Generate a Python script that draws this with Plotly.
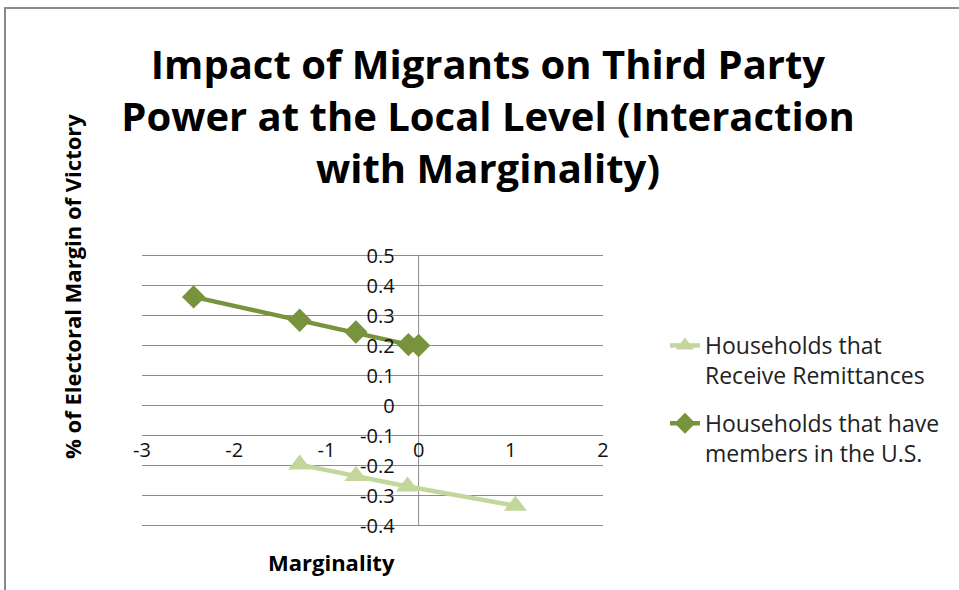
import plotly.graph_objects as go

# values
members_x = [-2.44, -1.29, -0.68, -0.11, 0.0]
members_y = [0.362, 0.284, 0.245, 0.203, 0.200]
remit_x = [-1.29, -0.68, -0.12, 1.05]
remit_y = [-0.197, -0.235, -0.27, -0.334]

y_ticks = [-0.4, -0.3, -0.2, -0.1, 0, 0.1, 0.2, 0.3, 0.4, 0.5]
y_labels = ["-0.4", "-0.3", "-0.2", "-0.1", "0", "0.1", "0.2", "0.3", "0.4", "0.5"]
x_ticks = [-3, -2, -1, 0, 1, 2]
x_labels = ["-3", "-2", "-1", "0", "1", "2"]

FONT = "'Open Sans', Lato, sans-serif"
W, H = 959, 590
L, R, T, B = 142, 603, 254, 527  # plot area in pixels
Y0, Y1 = -0.405, 0.505  # small pad so the end gridlines still draw

fig = go.Figure()

fig.add_trace(go.Scatter(
    x=remit_x, y=remit_y, mode="lines+markers",
    name="Households that<br>Receive Remittances", legendgroup="a",
    line=dict(color="#C3D69B", width=4.5),
    marker=dict(symbol="triangle-up", size=20, color="#C3D69B"),
))
fig.add_trace(go.Scatter(
    x=members_x, y=members_y, mode="lines+markers",
    name="Households that have<br>members in the U.S.", legendgroup="b",
    line=dict(color="#77933C", width=4.5),
    marker=dict(symbol="diamond", size=18, color="#77933C"),
))

def px_x(p):
    return (p - L) / (R - L)

def px_y(p):
    return (B - p) / (B - T)

fig.update_layout(
    width=W, height=H,
    margin=dict(l=L, r=W - R, t=T, b=H - B),
    paper_bgcolor="white", plot_bgcolor="white",
    font=dict(family=FONT, color="#111"),
    title=dict(
        text="<b>Impact of Migrants on Third Party<br>Power at the Local Level (Interaction<br>with Marginality)</b>",
        x=488 / W, xanchor="center", y=1 - 79 / H, yanchor="top",
        font=dict(size=40, family=FONT, color="black"),
    ),
    showlegend=True,
    legend=dict(
        x=px_x(665), y=px_y(324), xanchor="left", yanchor="top",
        font=dict(size=23, family=FONT, color="#222"),
        tracegroupgap=15, valign="top", bgcolor="rgba(0,0,0,0)",
    ),
    shapes=[dict(
        type="rect", xref="paper", yref="paper",
        x0=px_x(5), x1=px_x(1000), y0=px_y(640), y1=px_y(8),
        line=dict(color="#8a8a8a", width=2), layer="below",
    )],
    annotations=[
        dict(text="<b>Marginality</b>", xref="paper", yref="paper",
             x=px_x(331), y=px_y(562), xanchor="center", yanchor="middle",
             showarrow=False, font=dict(size=22, family=FONT, color="black")),
        dict(text="<b>% of Electoral Margin of Victory</b>", xref="paper", yref="paper",
             x=px_x(72), y=px_y(287), xanchor="center", yanchor="middle",
             showarrow=False, textangle=-90,
             font=dict(size=22, family=FONT, color="black")),
    ],
)

fig.update_xaxes(
    range=[-3, 2], tickvals=x_ticks, ticktext=x_labels,
    showgrid=False, zeroline=False, showline=False,
    anchor="free", position=(-0.1 - Y0) / (Y1 - Y0),
    tickfont=dict(size=20, family=FONT, color="#111"), ticks="",
)
fig.update_yaxes(
    range=[Y0, Y1], tickvals=y_ticks, ticktext=y_labels,
    showgrid=True, gridcolor="#8c8c8c", gridwidth=1, zeroline=False,
    showline=False, ticklabelstandoff=24,
    anchor="free", position=3 / 5,
    tickfont=dict(size=20, family=FONT, color="#111"), ticks="",
)

# vertical axis line at x = 0 from -0.4 to 0.5
fig.add_shape(type="line", xref="x", yref="y", x0=0, x1=0, y0=-0.4, y1=0.5,
              line=dict(color="#8c8c8c", width=1), layer="below")

# page has no body margin, so the figure sits at the window's top-left corner
fig.write_html("out.html", config={"displayModeBar": False},
               post_script="document.body.style.margin='0';")
